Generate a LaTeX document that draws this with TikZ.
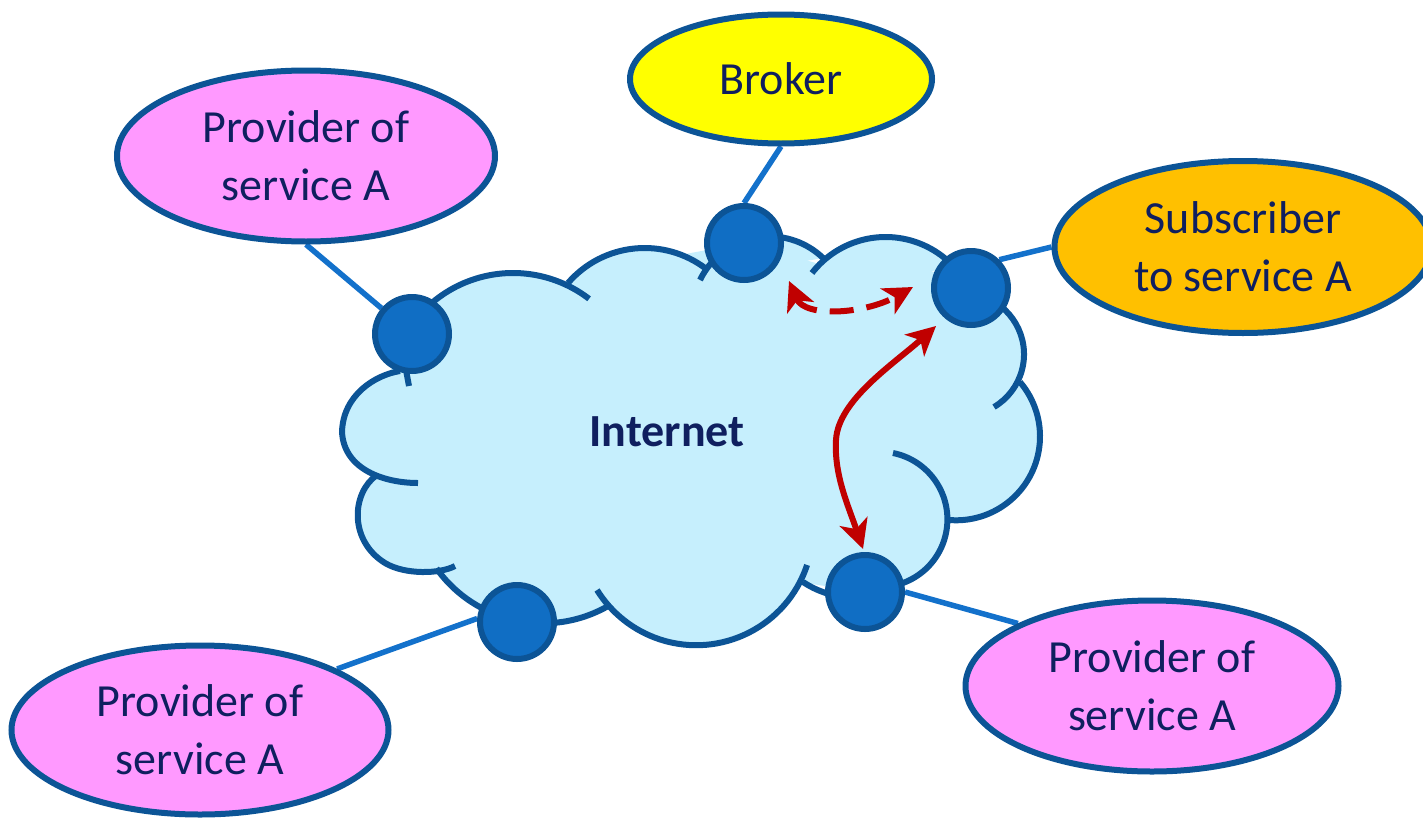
\documentclass[tikz,border=0pt]{standalone}
\usepackage{fontspec}
\setmainfont{Carlito}
\usetikzlibrary{shapes.geometric,arrows.meta}
\pgfdeclarelayer{background}
\pgfsetlayers{background,main}
\definecolor{cloudfill}{HTML}{C6EFFD}
\definecolor{cloudline}{HTML}{0C5496}
\definecolor{nodefill}{HTML}{106EC4}
\definecolor{connblue}{HTML}{1371CB}
\definecolor{pinkfill}{HTML}{FF99FF}
\definecolor{yellowfill}{HTML}{FFFF00}
\definecolor{orangefill}{HTML}{FFC000}
\definecolor{textnavy}{HTML}{0F1F5F}
\definecolor{arrowred}{HTML}{C00000}
\tikzset{
  cloudstroke/.style={draw=cloudline, line width=6pt},
  hub/.style={circle, draw=cloudline, fill=nodefill, line width=6pt, minimum size=74pt, inner sep=0pt},
  conn/.style={draw=connblue, line width=5.5pt},
  party/.style={ellipse, draw=cloudline, line width=6pt, inner sep=0pt, align=center,
     text=textnavy, font=\fontsize{46}{58}\selectfont},
  redarrow/.style={draw=arrowred, line width=6pt,
     {Stealth[length=29pt,width=29pt,inset=8pt]}-{Stealth[length=29pt,width=29pt,inset=8pt]}}
}
\newcommand\cloudbumps[1]{%
  \path[#1] ([shift={(200:125)}]513,398) arc[start angle=200, end angle=307.5, radius=125];
  \path[#1] ([shift={(220.9:101.3)}]644.6,349.3) arc[start angle=220.9, end angle=307.5, radius=101.3];
  \path[#1] ([shift={(205.8:77.2)}]769.5,313.6) arc[start angle=205.8, end angle=313.9, radius=77.2];
  \path[#1] ([shift={(217.9:93.3)}]885.6,330.3) arc[start angle=217.9, end angle=320, radius=93.3];
  \path[#1] ([shift={(285:61.3)}]962.7,354.3) arc[start angle=285, end angle=419.3, radius=61.3];
  \path[#1] ([shift={(319.6:83.9)}]956.1,436.4) arc[start angle=319.6, end angle=456.2, radius=83.9];
  \path[#1] ([shift={(281.3:67.7)}]879.7,519.4) arc[start angle=281.3, end angle=460, radius=67.7];
  \path[#1] (850,598) .. controls (830,596) and (815,590) .. (803,582);
  \path[#1] ([shift={(18.2:116.7)}]696.2,528.5) arc[start angle=18.2, end angle=148.2, radius=116.7];
  \path[#1] ([shift={(144.5:131)}]543.1,492.3) arc[start angle=144.5, end angle=60.5, radius=131];
  \path[#1] (377,475) .. controls (352,492) and (348,540) .. (385,563) .. controls (405,575) and (440,574) .. (455,566);
  \path[#1] (400,371) .. controls (375,375) and (343,395) .. (342,432) .. controls (344,470) and (385,483) .. (418,483);
  \path[#1] (406,370) -- (409,386);
}
\begin{document}
\begin{tikzpicture}[x=1pt,y=-1pt]
\useasboundingbox (0,0) rectangle (1423,819);
% hubs
\node[hub] (h1) at (412,334) {};
\node[hub] (h2) at (744,243) {};
\node[hub] (h3) at (971,288) {};
\node[hub] (h4) at (517,622) {};
\node[hub] (h5) at (865,592) {};
% parties
\node[party, fill=pinkfill, minimum width=378pt, minimum height=171pt] (p1) at (306,156) {Provider of\\service A};
\node[party, fill=yellowfill, minimum width=302pt, minimum height=129pt] (br) at (781,79) {Broker};
\node[party, fill=orangefill, minimum width=377pt, minimum height=172pt] (sub) at (1243,247) {Subscriber\\to service A};
\node[party, fill=pinkfill, minimum width=377pt, minimum height=169pt] (p2) at (200,730) {Provider of\\service A};
\node[party, fill=pinkfill, minimum width=373pt, minimum height=171pt] (p3) at (1152,686) {Provider of\\service A};
\node[text=textnavy, font=\fontsize{46}{58}\selectfont\bfseries] (inet) at (667,432) {Internet};
\begin{pgfonlayer}{background}
  % cloud
  \fill[cloudfill] (412,334) -- (513,290) -- (568,283) -- (643,262) -- (744,243) -- (823,265) -- (887,252)
    -- (971,288) -- (1010,350) -- (1020,382) -- (1025,440) -- (947,520) -- (865,592) -- (805,583)
    -- (700,635) -- (608,607) -- (517,622) -- (440,570) -- (370,520) -- (377,475) -- (355,430) -- cycle;
  \cloudbumps{fill=cloudfill}
  \cloudbumps{cloudstroke}
  % connectors
  \draw[conn] (p1.south) -- (h1);
  \draw[conn] (br.south) -- (h2.north);
  \draw[conn] (sub.west) -- (h3.45);
  \draw[conn] (p2.24) -- (h4.175);
  \draw[conn] (h5.east) -- (p3.155);
\end{pgfonlayer}
% arrows
\coordinate (da) at (789,281);
\coordinate (db) at (913,287);
\draw[redarrow, dash pattern=on 24pt off 13pt] (da) .. controls (805,318) and (865,314) .. (db);
\coordinate (sa) at (863,549);
\coordinate (sm) at (836,440);
\coordinate (sb) at (936,326);
\draw[redarrow] (sa) .. controls (848,505) and (834,475) .. (sm) .. controls (838,400) and (895,363) .. (sb);
\end{tikzpicture}
\end{document}
